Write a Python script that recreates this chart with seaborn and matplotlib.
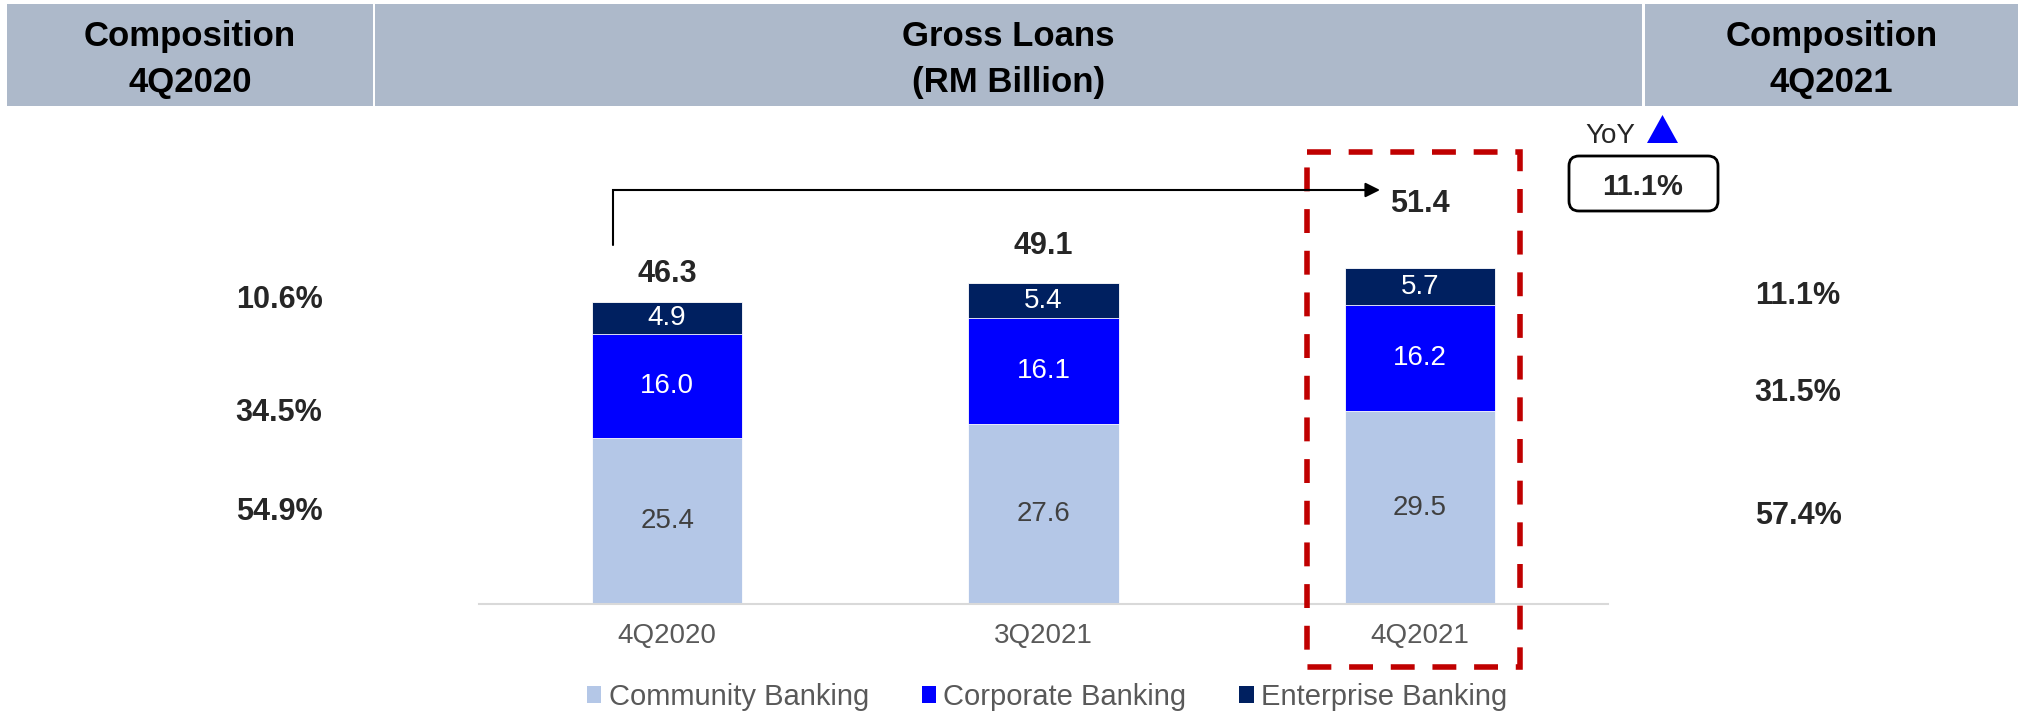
import matplotlib
matplotlib.use("Agg")
import matplotlib.pyplot as plt
from matplotlib.patches import Rectangle, FancyBboxPatch, Polygon, Patch
import seaborn as sns
import pandas as pd

# Gross loans by segment, RM billion
quarters = ["4Q2020", "3Q2021", "4Q2021"]
community = [25.4, 27.6, 29.5]
corporate = [16.0, 16.1, 16.2]
enterprise = [4.9, 5.4, 5.7]
segments = ["Community Banking", "Corporate Banking", "Enterprise Banking"]

# Composition shares (community, corporate, enterprise)
mix_4q2020 = ["54.9%", "34.5%", "10.6%"]
mix_4q2021 = ["57.4%", "31.5%", "11.1%"]
yoy_growth = "11.1%"

COLORS = {
    "Community Banking": "#B4C7E7",
    "Corporate Banking": "#0000FF",
    "Enterprise Banking": "#002060",
}
LABEL_COLORS = {
    "Community Banking": "#404040",
    "Corporate Banking": "white",
    "Enterprise Banking": "white",
}
HEADER_BG = "#ADB9CA"
RED = "#C00000"
GREY_TEXT = "#595959"

sns.set_style("white")
plt.rcParams["font.family"] = ["Liberation Sans", "DejaVu Sans"]

W, H = 2018, 713
fig = plt.figure(figsize=(W / 100, H / 100), dpi=100)

df = pd.DataFrame({
    "quarter": quarters,
    "community": community,
    "corporate": corporate,
    "enterprise": enterprise,
})
df["lower"] = df["community"] + df["corporate"]
df["total"] = df["lower"] + df["enterprise"]

# ---- stacked bars -------------------------------------------------------
ax = fig.add_axes([479 / W, (H - 604) / H, 1129 / W, 392 / H])
layers = [("total", "Enterprise Banking"),
          ("lower", "Corporate Banking"),
          ("community", "Community Banking")]
for col, seg in layers:
    sns.barplot(data=df, x="quarter", y=col, color=COLORS[seg], saturation=1,
                width=0.4, edgecolor="white", linewidth=0.6, ax=ax)

ax.set_xlim(-0.5, 2.5)
ax.set_ylim(0, 60)
ax.set_xlabel("")
ax.set_ylabel("")
ax.set_yticks([])
sns.despine(ax=ax, left=True)
ax.spines["bottom"].set_color("#D9D9D9")
ax.spines["bottom"].set_linewidth(1.5)
ax.tick_params(axis="x", length=0, pad=14, labelsize=20, labelcolor=GREY_TEXT)

# segment value labels at the middle of each segment
seg_bottoms = {
    "Community Banking": [0.0] * 3,
    "Corporate Banking": list(df["community"]),
    "Enterprise Banking": list(df["lower"]),
}
seg_values = {
    "Community Banking": community,
    "Corporate Banking": corporate,
    "Enterprise Banking": enterprise,
}
for seg in segments:
    for i, (b, v) in enumerate(zip(seg_bottoms[seg], seg_values[seg])):
        ax.text(i, b + v / 2, f"{v:.1f}", ha="center", va="center",
                fontsize=20, color=LABEL_COLORS[seg])

# totals above the bars
total_offsets = [20, 27, 46]
for i, (t, off) in enumerate(zip(df["total"], total_offsets)):
    ax.annotate(f"{t:.1f}", xy=(i, t), xytext=(0, off), textcoords="offset points",
                ha="center", va="center", fontsize=22, fontweight="bold",
                annotation_clip=False)

# ---- page furniture in pixel space --------------------------------------
ov = fig.add_axes([0, 0, 1, 1], zorder=5)
ov.set_xlim(0, W)
ov.set_ylim(H, 0)
ov.axis("off")

header_boxes = [(7, 373), (375, 1642), (1645, 2018)]
header_text = [("Composition", "4Q2020"), ("Gross Loans", "(RM Billion)"),
               ("Composition", "4Q2021")]
for (x0, x1), (l1, l2) in zip(header_boxes, header_text):
    ov.add_patch(Rectangle((x0, 4), x1 - x0, 102, facecolor=HEADER_BG,
                           edgecolor="none"))
    cx = (x0 + x1) / 2
    ov.text(cx, 46, l1, ha="center", va="baseline", fontsize=25,
            fontweight="bold", color="black")
    ov.text(cx, 92, l2, ha="center", va="baseline", fontsize=25,
            fontweight="bold", color="black")

# composition percentages either side of the chart
for txt, yb in zip(mix_4q2020, [520, 421, 308]):
    ov.text(279, yb, txt, ha="center", va="baseline", fontsize=22,
            fontweight="bold")
for txt, yb in zip(mix_4q2021, [524, 401, 304]):
    ov.text(1798, yb, txt, ha="center", va="baseline", fontsize=22,
            fontweight="bold")

# highlight around the latest quarter
ov.add_patch(Rectangle((1307, 152), 213, 515, fill=False, edgecolor=RED,
                       linewidth=4, linestyle=(0, (4.3, 3.2)),
                       capstyle="butt", joinstyle="miter"))

# year-on-year connector arrow
ov.plot([613, 613, 1366], [245, 190, 190], color="black", linewidth=1.5,
        solid_joinstyle="miter")
ov.annotate("", xy=(1380, 190), xytext=(1360, 190),
            arrowprops=dict(arrowstyle="-|>", color="black", linewidth=1.5,
                            mutation_scale=22, shrinkA=0, shrinkB=0))

# YoY badge
ov.text(1610, 143, "YoY", ha="center", va="baseline", fontsize=20)
ov.add_patch(Polygon([(1647, 143), (1678, 143), (1662.5, 115)], closed=True,
                     facecolor="#0000FF", edgecolor="none"))
ov.add_patch(FancyBboxPatch((1569, 156), 149, 55,
                            boxstyle="round,pad=0,rounding_size=10",
                            facecolor="white", edgecolor="black", linewidth=2))
ov.text(1643, 195, yoy_growth, ha="center", va="baseline", fontsize=21,
        fontweight="bold")

# legend
handles = [Patch(facecolor=COLORS[s], edgecolor="none") for s in segments]
fig.legend(handles, segments, loc="center", bbox_to_anchor=(1047 / W, 16 / H),
           ncol=3, frameon=False, fontsize=21, labelcolor=GREY_TEXT,
           handlelength=0.5, handleheight=0.5, handletextpad=0.25,
           columnspacing=1.8, borderaxespad=0)

fig.savefig("out.png", dpi=100, facecolor="white")
